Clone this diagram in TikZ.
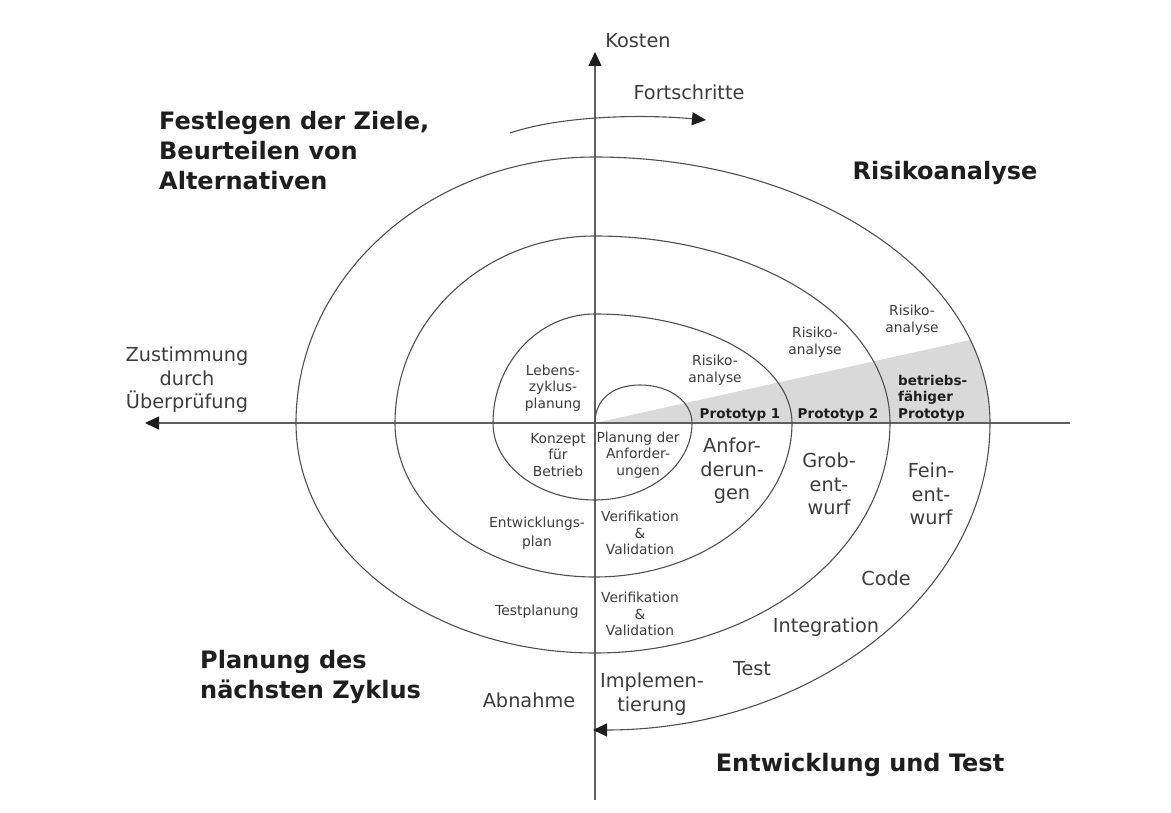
\documentclass[tikz,border=0pt]{standalone}
\usepackage{fontspec}
\setmainfont{DejaVu Sans}
\usetikzlibrary{arrows.meta}
\definecolor{linec}{RGB}{80,80,80}
\definecolor{axisc}{RGB}{95,95,95}
\definecolor{tipc}{RGB}{30,30,30}
\definecolor{wedgec}{RGB}{217,217,217}
\definecolor{txtc}{RGB}{60,60,60}
\definecolor{headc}{RGB}{30,30,30}
\tikzset{
  spiral/.style={draw=linec, line width=1.1pt},
  axis/.style={draw=axisc, line width=1.3pt},
  tipped/.style={-{Triangle[length=14pt,width=13pt,fill=tipc,color=tipc]}},
  small/.style={text=txtc, font=\fontsize{13.8}{16.5}\selectfont, align=center, inner sep=0pt},
  med/.style={text=txtc, font=\fontsize{19.3}{23.5}\selectfont, align=center, inner sep=0pt},
  heading/.style={text=headc, font=\fontsize{24}{30}\selectfont\bfseries, align=left, inner sep=0pt},
  smallbold/.style={text=headc, font=\fontsize{13.5}{16.5}\selectfont\bfseries, align=center, inner sep=0pt},
}
\begin{document}
\begin{tikzpicture}[x=1pt,y=-1pt]
\useasboundingbox (0,0) rectangle (1171,813);
% coordinates
\coordinate (O) at (595,423);
\coordinate (ytop) at (595,52);
\coordinate (ybot) at (595,800);
\coordinate (xleft) at (145,423);
\coordinate (xright) at (1070,423);
\coordinate (fs) at (510,133);
\coordinate (fe) at (706,120);
% grey wedge
\begin{scope}
  \clip (O) -- (1000,333.4) -- (1000,423) -- cycle;
  \fill[wedgec] (O) -- (595,157) .. controls (813.2,157) and (990,276.1) .. (990,423) -- cycle;
\end{scope}
% axes
\draw[axis,tipped] (ybot) -- (ytop);
\draw[axis,tipped] (xright) -- (xleft);
% Fortschritte arrow
\draw[spiral,tipped] (fs) .. controls (560,116) and (640,114) .. (fe);
% spiral
\draw[spiral,tipped] (O) .. controls (595,400) and (612,385) .. (640,385)
  .. controls (670,385) and (692,402) .. (692,423)
  .. controls (692,465.5) and (648.6,500) .. (595,500)
  .. controls (538.7,500) and (493,465.5) .. (493,423)
  .. controls (493,362.8) and (538.7,314) .. (595,314)
  .. controls (703.8,314) and (792,362.8) .. (792,423)
  .. controls (792,508) and (703.8,577) .. (595,577)
  .. controls (484.5,577) and (395,508) .. (395,423)
  .. controls (395,319.7) and (484.5,236) .. (595,236)
  .. controls (757.9,236) and (890,319.7) .. (890,423)
  .. controls (890,550) and (757.9,653) .. (595,653)
  .. controls (429.9,653) and (296,550) .. (296,423)
  .. controls (296,276.1) and (429.9,157) .. (595,157)
  .. controls (813.2,157) and (990,276.1) .. (990,423)
  .. controls (990,592.6) and (813.2,730) .. (593,730);
% headings
\node[heading, anchor=west] (ziele) at (159,151) {Festlegen der Ziele,\\Beurteilen von\\Alternativen};
\node[heading] (risiko) at (945,173) {Risikoanalyse};
\node[heading, anchor=west] (planung) at (200,677) {Planung des\\nächsten Zyklus};
\node[heading] (entw) at (860,765) {Entwicklung und Test};
% axis labels
\node[med] (kosten) at (638,41) {Kosten};
\node[med] (fort) at (689,92) {Fortschritte};
\node[med] (zust) at (187,380) {Zustimmung\\durch\\Überprüfung};
% inner texts
\node[small] (lebens) at (553,388) {Lebens-\\zyklus-\\planung};
\node[small] (konzept) at (558,455) {Konzept\\für\\Betrieb};
\node[small] (planan) at (638,455) {Planung der\\Anforder-\\ungen};
\node[small] (ra1) at (715,370) {Risiko-\\analyse};
\node[small] (ra2) at (815,342) {Risiko-\\analyse};
\node[small] (ra3) at (912,320) {Risiko-\\analyse};
\node[smallbold] (p1) at (740,415) {Prototyp 1};
\node[smallbold] (p2) at (838,415) {Prototyp 2};
\node[smallbold, align=left, anchor=west] (p3) at (898,398) {betriebs-\\fähiger\\Prototyp};
\node[med] (anf) at (732,471) {Anfor-\\derun-\\gen};
\node[med] (grob) at (829,484) {Grob-\\ent-\\wurf};
\node[med] (fein) at (931,494) {Fein-\\ent-\\wurf};
\node[med] (code) at (886,578) {Code};
\node[med] (integ) at (826,627) {Integration};
\node[med] (test) at (752,669) {Test};
\node[med] (impl) at (652,694) {Implemen-\\tierung};
\node[med] (abn) at (529,700) {Abnahme};
\node[small, font=\fontsize{13.8}{19}\selectfont] (eplan) at (537,533) {Entwicklungs-\\plan};
\node[small] (vv1) at (640,533) {Verifikation\\\&\\Validation};
\node[small] (tplan) at (537,612) {Testplanung};
\node[small] (vv2) at (640,614) {Verifikation\\\&\\Validation};
\end{tikzpicture}
\end{document}
